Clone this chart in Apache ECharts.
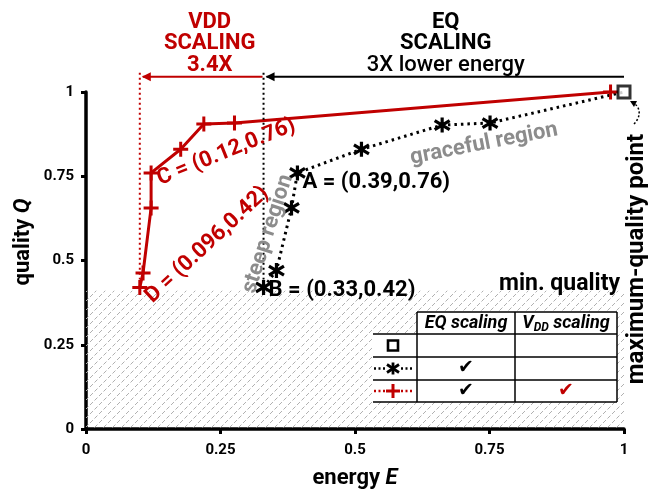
<!DOCTYPE html>
<html>
<head>
<meta charset="utf-8">
<script src="https://cdn.jsdelivr.net/npm/echarts@6/dist/echarts.min.js"></script>
<style>
  html, body { margin: 0; padding: 0; background: #fff; }
  #chart { width: 656px; height: 490px; }
</style>
</head>
<body>
<div id="chart"></div>
<script>
// ---- data ----
var eqEnergy   = [0.33, 0.354, 0.382, 0.393, 0.512, 0.662, 0.751, 1.0];
var eqQuality  = [0.42, 0.47, 0.656, 0.76, 0.83, 0.902, 0.908, 1.0];
var vddEnergy  = [0.1, 0.106, 0.121, 0.121, 0.176, 0.219, 0.276, 0.975];
var vddQuality = [0.42, 0.463, 0.656, 0.76, 0.83, 0.905, 0.908, 1.0];
var maxPoint   = [1.0, 1.0];
var minQuality = 0.41;
var arrowLevel = 1.045;   // height of the two arrows above the plot
var pointA = [0.393, 0.76], pointB = [0.33, 0.42];
var pointC = [0.121, 0.76], pointD = [0.1, 0.42];
var labelA = 'A = (0.39,0.76)', labelB = 'B = (0.33,0.42)';
var labelC = 'C = (0.12,0.76)', labelD = 'D = (0.096,0.42)';

var FONT = 'Roboto, "Liberation Sans", sans-serif';
var RED = '#c00000';

var chart = echarts.init(document.getElementById('chart'));

// diagonal hatching for the "below min. quality" zone
var hatch = document.createElement('canvas');
hatch.width = 9; hatch.height = 9;
var hc = hatch.getContext('2d');
hc.strokeStyle = '#b0b0b0';
hc.lineWidth = 1;
hc.setLineDash([4.2, 2.16]);
hc.beginPath();
hc.moveTo(0, 9); hc.lineTo(9, 0);
hc.stroke();

function pairs(xs, ys) {
    return xs.map(function (x, i) { return [x, ys[i]]; });
}

var starPath = 'path://M5,0 L5,10 M0,2 L10,8 M0,8 L10,2';
var plusPath = 'path://M0,5 L10,5 M5,0 L5,10';

var eqData = pairs(eqEnergy, eqQuality);
eqData[eqData.length - 1] = { value: eqData[eqData.length - 1], symbol: 'none' };

chart.setOption({
    animation: false,
    grid: { left: 86, right: 32, top: 92, bottom: 61 },
    xAxis: {
        type: 'value', min: 0, max: 1, interval: 0.25,
        axisLine: { lineStyle: { color: '#000', width: 3.5 } },
        axisTick: { length: 5, lineStyle: { color: '#000', width: 3 } },
        axisLabel: { color: '#000', fontFamily: FONT, fontWeight: 'bold', fontSize: 15, margin: 14 },
        splitLine: { show: false }
    },
    yAxis: {
        type: 'value', min: 0, max: 1, interval: 0.25,
        axisLine: { show: true, lineStyle: { color: '#000', width: 3.5 } },
        axisTick: { show: true, length: 5, lineStyle: { color: '#000', width: 3 } },
        axisLabel: { color: '#000', fontFamily: FONT, fontWeight: 'bold', fontSize: 15, margin: 12 },
        splitLine: { show: false }
    },
    series: [{
        name: 'EQ scaling',
        type: 'line',
        z: 3,
        data: eqData,
        symbol: starPath,
        symbolSize: 15,
        showAllSymbol: true,
        lineStyle: { color: '#000', width: 3, type: [2.5, 4] },
        itemStyle: { color: '#000', borderColor: '#000', borderWidth: 3.2 },
        markArea: {
            silent: true,
            itemStyle: { color: { image: hatch, repeat: 'repeat' } },
            data: [[{ coord: [0, 0] }, { coord: [1, minQuality] }]]
        }
    }, {
        name: 'VDD scaling',
        type: 'line',
        z: 4,
        data: pairs(vddEnergy, vddQuality),
        symbol: plusPath,
        symbolSize: 15,
        showAllSymbol: true,
        lineStyle: { color: RED, width: 3 },
        itemStyle: { color: RED, borderColor: RED, borderWidth: 3 }
    }, {
        name: 'max quality',
        type: 'scatter',
        z: 5,
        data: [maxPoint],
        symbol: 'rect',
        symbolSize: 12,
        itemStyle: { color: '#fff', borderColor: '#000', borderWidth: 3 }
    }]
});

function px(p) { return chart.convertToPixel({ gridIndex: 0 }, p); }

function txt(x, y, s, o) {
    o = o || {};
    return {
        type: 'text', x: x, y: y, rotation: o.rot || 0, z: 100,
        style: {
            text: s, fill: o.color || '#000',
            font: (o.italic ? 'italic ' : '') + (o.weight || 'bold') + ' ' + (o.size || 17) + 'px ' + FONT,
            align: o.align || 'center', verticalAlign: 'middle', rich: o.rich
        }
    };
}

function seg(x1, y1, x2, y2, color, w, dash) {
    return { type: 'line', z: 90, shape: { x1: x1, y1: y1, x2: x2, y2: y2 },
             style: { stroke: color, lineWidth: w, lineDash: dash || null } };
}
function hline(x1, x2, y, color, w, dash) { return seg(x1, y, x2, y, color, w, dash); }
function vline(x, y1, y2, color, w, dash) { return seg(x, y1, x, y2, color, w, dash); }
function leftHead(x, y, color) {
    return { type: 'polygon', z: 91, shape: { points: [[x, y], [x + 9, y - 4.5], [x + 9, y + 4.5]] },
             style: { fill: color } };
}

function buildGraphics() {
    var g = [];
    var deg = Math.PI / 180;
    var top = px([0, arrowLevel])[1];
    var xB = px(pointB)[0], xD = px(pointD)[0], xMax = px(maxPoint)[0];

    // arrows and vertical guides
    g.push(hline(xB + 3, xMax, top, '#000', 2));
    g.push(leftHead(xB + 2, top, '#000'));
    g.push(hline(xD + 3, xB - 1, top, RED, 2));
    g.push(leftHead(xD + 2, top, RED));
    g.push(vline(xB, top - 4, px(pointB)[1] - 8, '#000', 2, [2, 3]));
    g.push(vline(xD, top - 4, px(pointD)[1] - 8, RED, 2, [2, 3]));

    // headers
    var cx1 = (xD + xB) / 2 + 8, cx2 = (xB + xMax) / 2 + 2;
    g.push(txt(cx1, 22, 'VDD', { color: RED, size: 22 }));
    g.push(txt(cx1, 43, 'SCALING', { color: RED, size: 22 }));
    g.push(txt(cx1, 65, '3.4X', { color: RED, size: 22 }));
    g.push(txt(cx2, 22, 'EQ', { size: 22 }));
    g.push(txt(cx2, 43, 'SCALING', { size: 22 }));
    g.push(txt(cx2, 65, '3X lower energy', { size: 22, weight: 500 }));

    // point labels
    var a = px(pointA), b = px(pointB), c = px(pointC), d = px(pointD);
    g.push(txt(a[0] + 5, a[1] + 10, labelA, { align: 'left', size: 22 }));
    g.push(txt(b[0] + 5, b[1] + 3, labelB, { align: 'left', size: 22 }));
    g.push(txt(c[0] + 7, c[1] + 7, labelC, { align: 'left', size: 22, color: RED, rot: 22 * deg }));
    g.push(txt(d[0] + 9, d[1] + 12, labelD, { align: 'left', size: 22, color: RED, rot: 43 * deg }));

    // region notes
    g.push(txt(268, 234, 'steep region', { size: 22, color: '#8c8c8c', rot: 72 * deg }));
    g.push(txt(484, 144, 'graceful region', { size: 22, color: '#8c8c8c', rot: 11 * deg }));
    var mq = px([1, minQuality]);
    g.push(txt(mq[0] - 4, mq[1] - 7, 'min. quality', { align: 'right', size: 23 }));
    g.push(txt(637, 259, 'maximum-quality point', { size: 24, rot: 90 * deg }));
    g.push({ type: 'bezierCurve', z: 90,
             shape: { x1: 634, y1: 124, cpx1: 642, cpy1: 116, cpx2: 640, cpy2: 106, x2: 633, y2: 103 },
             style: { stroke: '#000', lineWidth: 1.5, lineDash: [2, 2], fill: null } });
    g.push({ type: 'polygon', z: 91, shape: { points: [[630, 101], [637, 101], [634, 107]] }, style: { fill: '#000' } });

    // axis titles
    var rich = {
        n: { font: 'bold 22px ' + FONT, fill: '#000' },
        i: { font: 'italic bold 22px ' + FONT, fill: '#000' }
    };
    g.push(txt(px([0.5, 0])[0], 478, '{n|energy }{i|E}', { size: 22, rich: rich }));
    g.push(txt(23, 242, '{n|quality }{i|Q}', { size: 22, rot: 90 * deg, rich: rich }));

    // legend table
    var L = 373, C1 = 417, C2 = 515, R = 617;
    var rows = [312, 334, 357, 380, 402];
    g.push({ type: 'rect', z: 80, shape: { x: C1, y: rows[0], width: R - C1, height: rows[1] - rows[0] }, style: { fill: '#fff' } });
    g.push({ type: 'rect', z: 80, shape: { x: L, y: rows[1], width: R - L, height: rows[4] - rows[1] }, style: { fill: '#fff' } });
    g.push(hline(C1, R, rows[0], '#000', 1.5));
    for (var i = 1; i < rows.length; i++) g.push(hline(L, R, rows[i], '#000', 1.5));
    [C1, C2, R].forEach(function (x) { g.push(vline(x, rows[0], rows[4], '#000', 1.5)); });

    g.push(txt((C1 + C2) / 2, 323, 'EQ scaling', { italic: true, size: 18 }));
    g.push(txt((C2 + R) / 2, 323, '{v|V}{s|DD}{v| scaling}', {
        size: 18,
        rich: {
            v: { font: 'italic bold 18px ' + FONT, fill: '#000' },
            s: { font: 'italic bold 12px ' + FONT, fill: '#000', padding: [9, 0, 0, 0] }
        }
    }));

    var sx = 393;
    var ym = [(rows[1] + rows[2]) / 2, (rows[2] + rows[3]) / 2, (rows[3] + rows[4]) / 2];
    g.push({ type: 'rect', z: 92, shape: { x: sx - 5, y: ym[0] - 5, width: 10, height: 10 },
             style: { fill: '#fff', stroke: '#000', lineWidth: 2.6 } });
    // dotted black with asterisk
    g.push(hline(L + 1, sx - 8, ym[1], '#000', 2.5, [2, 2.5]));
    g.push(hline(sx + 8, C1 - 3, ym[1], '#000', 2.5, [2, 2.5]));
    g.push(seg(sx, ym[1] - 6, sx, ym[1] + 6, '#000', 2.8));
    g.push(seg(sx - 6, ym[1] - 4, sx + 6, ym[1] + 4, '#000', 2.8));
    g.push(seg(sx - 6, ym[1] + 4, sx + 6, ym[1] - 4, '#000', 2.8));
    // dotted red with plus
    g.push(hline(L + 1, sx - 8, ym[2], RED, 2.5, [2, 2.5]));
    g.push(hline(sx + 8, C1 - 3, ym[2], RED, 2.5, [2, 2.5]));
    g.push(seg(sx - 7, ym[2], sx + 7, ym[2], RED, 3));
    g.push(seg(sx, ym[2] - 7, sx, ym[2] + 7, RED, 3));

    var chk = function (x, y, col) {
        return { type: 'text', x: x, y: y, z: 100,
                 style: { text: '\u2714', fill: col, font: '19px "DejaVu Sans"', align: 'center', verticalAlign: 'middle' } };
    };
    g.push(chk((C1 + C2) / 2, ym[1], '#000'));
    g.push(chk((C1 + C2) / 2, ym[2], '#000'));
    g.push(chk((C2 + R) / 2, ym[2], RED));

    return g;
}

chart.setOption({ graphic: buildGraphics() });
window.addEventListener('resize', function () { chart.resize(); });
</script>
</body>
</html>
